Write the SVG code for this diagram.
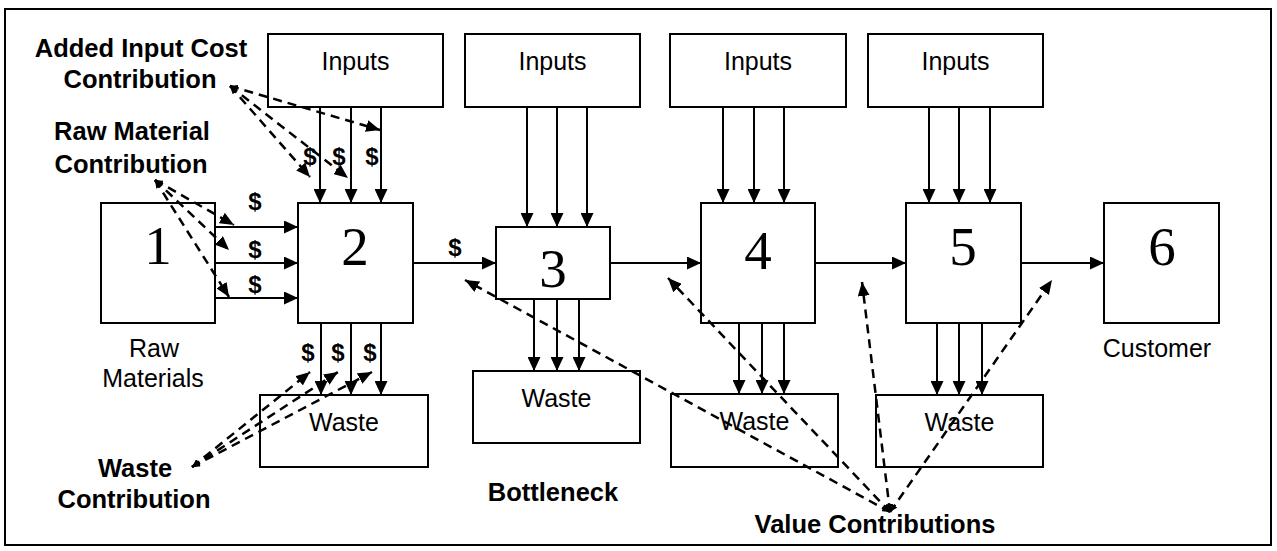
<svg xmlns="http://www.w3.org/2000/svg" width="1277" height="551" viewBox="0 0 1277 551">
<defs>
<marker id="ah" markerUnits="userSpaceOnUse" viewBox="0 0 14 13" markerWidth="14" markerHeight="13" refX="14" refY="6.5" orient="auto"><path d="M0,0 L14,6.5 L0,13 z" fill="#000"/></marker>
<marker id="dh" markerUnits="userSpaceOnUse" viewBox="0 0 14 12" markerWidth="14" markerHeight="12" refX="14" refY="6" orient="auto"><path d="M0,0 L14,6 L0,12 z" fill="#000"/></marker>
<marker id="ds" markerUnits="userSpaceOnUse" viewBox="0 0 8 7" markerWidth="8" markerHeight="7" refX="0" refY="3.5" orient="auto"><path d="M8,0 L0,3.5 L8,7 z" fill="#000"/></marker>
</defs>
<style>
.box{fill:#fff;stroke:#000;stroke-width:2}
.lbl{font-family:"Liberation Sans",Arial,sans-serif;font-size:25px;fill:#000;text-anchor:middle}
.num{font-family:"Liberation Serif","Times New Roman",serif;font-size:55px;fill:#000;text-anchor:middle}
.bold{font-family:"Liberation Sans",Arial,sans-serif;font-size:25.5px;font-weight:bold;fill:#000;text-anchor:middle}
.dol{font-family:"Liberation Sans",Arial,sans-serif;font-size:24px;font-weight:bold;fill:#000;text-anchor:middle}
.arr{stroke:#000;stroke-width:2;fill:none;marker-end:url(#ah)}
.dash{stroke:#000;stroke-width:2.5;fill:none;stroke-dasharray:9,6;marker-end:url(#dh);marker-start:url(#ds)}
</style>
<rect x="5" y="9" width="1266" height="536" fill="#fff" stroke="#000" stroke-width="2"/>

<g id="inputs1"><rect class="box" x="268" y="34" width="175" height="73"/><text class="lbl" x="355.5" y="70">Inputs</text></g>
<g id="inputs2"><rect class="box" x="465" y="34" width="175" height="73"/><text class="lbl" x="552.5" y="70">Inputs</text></g>
<g id="inputs3"><rect class="box" x="670" y="34" width="176" height="73"/><text class="lbl" x="758" y="70">Inputs</text></g>
<g id="inputs4"><rect class="box" x="868" y="34" width="175" height="73"/><text class="lbl" x="955.5" y="70">Inputs</text></g>

<g id="node1"><rect class="box" x="101" y="203" width="114" height="120"/><text class="num" x="158" y="264">1</text></g>
<g id="node2"><rect class="box" x="298" y="203" width="115" height="120"/><text class="num" x="355" y="265">2</text></g>
<g id="node3"><rect class="box" x="496" y="227" width="114" height="72"/><text class="num" x="553" y="287">3</text></g>
<g id="node4"><rect class="box" x="701" y="203" width="114" height="120"/><text class="num" x="758" y="269">4</text></g>
<g id="node5"><rect class="box" x="906" y="203" width="115" height="120"/><text class="num" x="963" y="265">5</text></g>
<g id="node6"><rect class="box" x="1104" y="203" width="115" height="120"/><text class="num" x="1162" y="265">6</text></g>

<g id="waste1"><rect class="box" x="260" y="395" width="168" height="72"/><text class="lbl" x="344" y="431">Waste</text></g>
<g id="waste2"><rect class="box" x="473" y="371" width="167" height="72"/><text class="lbl" x="556.5" y="407">Waste</text></g>
<g id="waste3"><rect class="box" x="671" y="394" width="167" height="73"/><text class="lbl" x="754.5" y="430">Waste</text></g>
<g id="waste4"><rect class="box" x="876" y="395" width="167" height="72"/><text class="lbl" x="959.5" y="431">Waste</text></g>

<g id="labels">
<text class="lbl" x="154" y="357">Raw</text>
<text class="lbl" x="153" y="387">Materials</text>
<text class="lbl" x="1157" y="357">Customer</text>
<text class="bold" x="141" y="57">Added Input Cost</text>
<text class="bold" x="140" y="88">Contribution</text>
<text class="bold" x="132" y="140">Raw Material</text>
<text class="bold" x="131" y="173">Contribution</text>
<text class="bold" x="135" y="477">Waste</text>
<text class="bold" x="134" y="508">Contribution</text>
<text class="bold" x="553" y="501">Bottleneck</text>
<text class="bold" x="875" y="533">Value Contributions</text>
<text class="dol" x="310" y="165">$</text>
<text class="dol" x="339" y="165">$</text>
<text class="dol" x="372" y="165">$</text>
<text class="dol" x="255" y="210">$</text>
<text class="dol" x="255" y="258">$</text>
<text class="dol" x="255" y="293">$</text>
<text class="dol" x="308" y="361">$</text>
<text class="dol" x="338" y="361">$</text>
<text class="dol" x="370" y="361">$</text>
<text class="dol" x="455" y="256">$</text>
</g>

<g id="connectors">
<line class="arr" x1="320" y1="107" x2="320" y2="203"/>
<line class="arr" x1="351" y1="107" x2="351" y2="203"/>
<line class="arr" x1="381" y1="107" x2="381" y2="203"/>
<line class="arr" x1="527" y1="107" x2="527" y2="227"/>
<line class="arr" x1="557" y1="107" x2="557" y2="227"/>
<line class="arr" x1="587" y1="107" x2="587" y2="227"/>
<line class="arr" x1="723" y1="107" x2="723" y2="203"/>
<line class="arr" x1="754" y1="107" x2="754" y2="203"/>
<line class="arr" x1="784" y1="107" x2="784" y2="203"/>
<line class="arr" x1="929" y1="107" x2="929" y2="203"/>
<line class="arr" x1="959" y1="107" x2="959" y2="203"/>
<line class="arr" x1="990" y1="107" x2="990" y2="203"/>
<line class="arr" x1="321" y1="323" x2="321" y2="395"/>
<line class="arr" x1="351" y1="323" x2="351" y2="395"/>
<line class="arr" x1="381" y1="323" x2="381" y2="395"/>
<line class="arr" x1="534" y1="299" x2="534" y2="371"/>
<line class="arr" x1="557" y1="299" x2="557" y2="371"/>
<line class="arr" x1="579" y1="299" x2="579" y2="371"/>
<line class="arr" x1="739" y1="323" x2="739" y2="394"/>
<line class="arr" x1="762" y1="323" x2="762" y2="394"/>
<line class="arr" x1="784" y1="323" x2="784" y2="394"/>
<line class="arr" x1="937" y1="323" x2="937" y2="395"/>
<line class="arr" x1="959" y1="323" x2="959" y2="395"/>
<line class="arr" x1="982" y1="323" x2="982" y2="395"/>
<line class="arr" x1="215" y1="227" x2="298" y2="227"/>
<line class="arr" x1="215" y1="263" x2="298" y2="263"/>
<line class="arr" x1="215" y1="298" x2="298" y2="298"/>
<line class="arr" x1="413" y1="263" x2="496" y2="263"/>
<line class="arr" x1="610" y1="263" x2="701" y2="263"/>
<line class="arr" x1="815" y1="263" x2="906" y2="263"/>
<line class="arr" x1="1021" y1="263" x2="1104" y2="263"/>

<line class="dash" x1="230" y1="86" x2="380" y2="130"/>
<line class="dash" x1="230" y1="86" x2="310" y2="177"/>
<line class="dash" x1="230" y1="86" x2="348" y2="178"/>
<line class="dash" x1="155" y1="180" x2="234" y2="225"/>
<line class="dash" x1="155" y1="180" x2="229" y2="250"/>
<line class="dash" x1="155" y1="180" x2="229" y2="297"/>
<line class="dash" x1="192" y1="467" x2="310" y2="372"/>
<line class="dash" x1="192" y1="467" x2="338" y2="372"/>
<line class="dash" x1="192" y1="467" x2="372" y2="372"/>
<line class="dash" x1="890" y1="512" x2="465" y2="280"/>
<line class="dash" x1="890" y1="512" x2="668" y2="278"/>
<line class="dash" x1="890" y1="512" x2="862" y2="282"/>
<line class="dash" x1="890" y1="512" x2="1052" y2="280"/>
</g>
</svg>
